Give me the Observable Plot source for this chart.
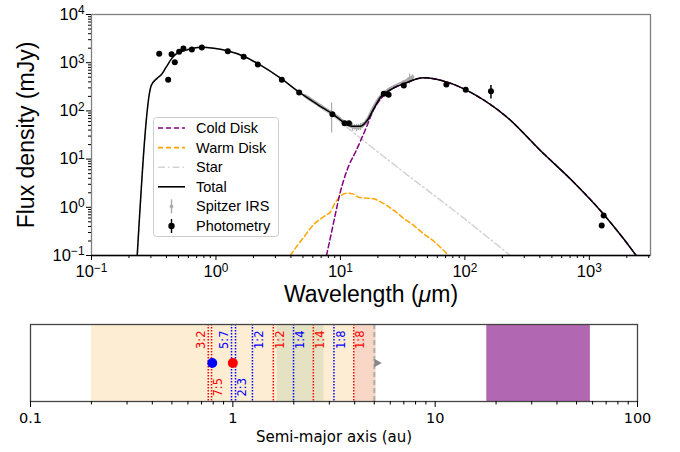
<!DOCTYPE html>
<html><head><meta charset="utf-8">
<script src="https://cdn.jsdelivr.net/npm/d3@7"></script>
<script src="https://cdn.jsdelivr.net/npm/@observablehq/plot@0.6"></script>
<style>
body{margin:0;background:#fff}
#chart{position:relative;width:680px;height:452px;overflow:hidden}
#top,#bottom{position:absolute;left:0}
#top{top:0}
#bottom{top:310px}
#legend{position:absolute;left:153px;top:117px}
</style></head>
<body><div id="chart"><div id="top"></div><div id="bottom"></div><svg id="legend" width="127" height="121"></svg></div>
<script>
// ---------------- data ----------------
const photWave = [0.35, 0.413, 0.44, 0.467, 0.506, 0.548, 0.64, 0.77, 1.245, 1.67, 2.17, 3.38, 4.66, 8.62, 10.8, 11.7, 22.3, 24.4, 32.3, 71, 101.6, 162, 1303, 1257];
const photFlux = [1528, 442, 1500, 1023, 1682, 1972, 1880, 2065, 1733, 1325, 918, 442, 241, 85.5, 55.6, 55.6, 226, 216, 337, 353, 274, 256, 0.676, 0.419];
const photErr  = [40, 15, 40, 30, 45, 50, 50, 55, 45, 35, 25, 12, 7, 3, 2, 2, 6, 6, 9, 9, 8, 80, 0.05, 0.03];

const irsWave = [5.2, 5.6, 6.0, 6.5, 7.0, 7.5, 8.0, 8.5, 9.0, 9.5, 10.0, 10.5, 11.0, 11.5, 12.0, 12.5, 13.0, 13.5, 14.0, 14.5, 15.0, 16.0, 17.0, 18.0, 19.0, 20.0, 21.0, 22.0, 23.0, 24.0, 25.0, 26.0, 27.0, 28.0, 30.0, 32.0, 34.0, 35.0, 36.0, 37.0, 38.0];
const irsFlux = [205, 180, 160, 140, 124, 110, 99, 90, 80, 73, 66, 60, 56, 52, 50, 47, 46, 45, 46, 47, 50, 58, 74, 102, 132, 165, 195, 222, 245, 265, 285, 300, 318, 332, 360, 390, 420, 440, 470, 480, 500];
const irsErr  = [12, 12, 10, 10, 9, 8, 8, 55, 6, 6, 6, 5, 5, 6, 6, 9, 6, 8, 7, 8, 6, 6, 7, 9, 10, 12, 14, 15, 16, 18, 18, 20, 20, 22, 25, 28, 30, 40, 110, 45, 60];

const totalWave = [0.233, 0.302, 0.337, 0.365, 0.398, 0.445, 0.488, 0.587, 0.75, 0.96, 1.23, 1.67, 2.28, 3.3, 4.78, 6.5, 8.83, 10.6, 12.4, 14.5, 16.4, 18.5, 21, 25.2, 32.3, 46.7, 72, 117, 218, 404, 748, 1225, 1884, 2388, 2600];
const totalFlux = [0.1, 336, 477, 569, 807, 1258, 1575, 1845, 2100, 2000, 1766, 1365, 887, 477, 233, 137, 83, 58, 48.2, 48.2, 63, 110, 192, 274, 365, 486, 395, 226, 74, 15.1, 3.32, 0.86, 0.222, 0.0986, 0.074];

const starWave = [0.233, 0.302, 0.337, 0.365, 0.398, 0.445, 0.488, 0.587, 0.75, 0.96, 1.23, 1.67, 2.28, 3.3, 4.78, 6.5, 8.83, 10.6, 12.4, 14.9, 30, 92, 232];
const starFlux = [0.1, 336, 477, 569, 807, 1258, 1575, 1845, 2100, 2000, 1766, 1365, 887, 477, 233, 136, 76, 53, 37.5, 25.7, 6.2, 0.676, 0.1];

const coldWave = [7.73, 8.32, 9.12, 9.89, 10.6, 11.7, 13.2, 14.9, 16.4, 17.9, 21, 25.2, 32.3, 46.7, 72, 117, 218, 404, 748, 1225, 1884, 2388, 2600];
const coldFlux = [0.1, 0.24, 0.73, 1.9, 3.6, 7.4, 13.9, 28, 50, 90, 175, 274, 365, 486, 395, 226, 74, 15.1, 3.32, 0.86, 0.222, 0.0986, 0.074];

const warmWave = [3.96, 4.5, 5.08, 6.1, 6.9, 7.6, 8.3, 9.0, 10.0, 11.3, 12.5, 14.0, 16.0, 18.5, 21, 26.9, 32, 38.8, 46, 56, 65, 74];
const warmFlux = [0.1, 0.16, 0.24, 0.44, 0.57, 0.68, 0.8, 1.2, 1.7, 1.96, 1.9, 1.62, 1.55, 1.5, 1.3, 0.86, 0.6, 0.42, 0.29, 0.2, 0.14, 0.1];

const xTicks = [0.1, 1, 10, 100, 1000];
const xTickLabels = ["10^-1", "10^0", "10^1", "10^2", "10^3"];
const yTicks = [0.1, 1, 10, 100, 1000, 10000];
const yTickLabels = ["10^-1", "10^0", "10^1", "10^2", "10^3", "10^4"];
const legendLabels = ["Cold Disk", "Warm Disk", "Star", "Total", "Spitzer IRS", "Photometry"];

// bottom panel
const bandNames = ["habitable", "overlap", "inner", "coldBelt"];
const bandStart = [0.2, 1.66, 4.0, 18.0];
const bandEnd   = [5.1, 2.82, 5.1, 58.5];
const redRes = [0.756, 0.785, 1.585, 2.50, 3.96];
const redResLabels = ["3:2", "7:5", "1:2", "1:4", "1:8"];
const blueRes = [0.985, 1.031, 1.25, 1.995, 3.16];
const blueResLabels = ["5:7", "2:3", "1:2", "1:4", "1:8"];
const planetBlue = [0.791];
const planetRed = [1.0];
const snowLine = [5.0];
const auTicks = [0.1, 1, 10, 100];
const auTickLabels = ["0.1", "1", "10", "100"];

// ---------------- styling ----------------
const bandFill = {habitable: "#fdeed3", overlap: "#e4e2c2", inner: "#f8d7c6", coldBelt: "#b267b2"};
const labelSide = ["tl", "br", "tr", "tr", "tr"];

function minorTicks(lo, hi) {
  const out = [];
  for (let p = lo; p < hi; p++) for (let k = 2; k <= 9; k++) out.push(k * Math.pow(10, p));
  return out;
}
const ns = "http://www.w3.org/2000/svg";
function supify(svg) {
  svg.querySelectorAll("text").forEach(t => {
    const s = t.textContent;
    if (/^10\^/.test(s)) {
      const e = s.slice(3).replace("-", "\u2212");
      t.textContent = "";
      const a = document.createElementNS(ns, "tspan"); a.textContent = "10";
      const b = document.createElementNS(ns, "tspan");
      b.setAttribute("dy", "-0.45em"); b.setAttribute("font-size", "0.72em"); b.textContent = e;
      t.append(a, b);
    } else if (s.includes("\u03bc")) {
      const [pre, post] = s.split("\u03bc");
      t.textContent = "";
      const a = document.createElementNS(ns, "tspan"); a.textContent = pre;
      const b = document.createElementNS(ns, "tspan"); b.setAttribute("font-style", "italic"); b.textContent = "\u03bc";
      const c = document.createElementNS(ns, "tspan"); c.textContent = post;
      t.append(a, b, c);
    }
  });
}

const phot = photWave.map((w, i) => ({w, f: photFlux[i], e: photErr[i]}));
const irs = irsWave.map((w, i) => ({w, f: irsFlux[i], e: irsErr[i]}));
const total = totalWave.map((w, i) => ({w, f: totalFlux[i]}));
const star = starWave.map((w, i) => ({w, f: starFlux[i]}));
const cold = coldWave.map((w, i) => ({w, f: coldFlux[i]}));
const warm = warmWave.map((w, i) => ({w, f: warmFlux[i]}));

const topPlot = Plot.plot({
  width: 680, height: 310,
  marginLeft: 91, marginRight: 30, marginTop: 14, marginBottom: 55,
  style: {fontFamily: '"Liberation Sans", Arial, sans-serif', fontSize: "16.5px", background: "transparent", overflow: "visible", color: "#000"},
  x: {type: "log", domain: [0.1, 3100]},
  y: {type: "log", domain: [0.1, 10000]},
  marks: [
    Plot.ruleX(irs, {x: "w", y1: d => d.f - d.e, y2: d => d.f + d.e, stroke: "#a9a9a9", strokeWidth: 1.2, clip: true}),
    Plot.line(irs, {x: "w", y: "f", stroke: "#a9a9a9", strokeWidth: 3.6}),
    Plot.line(star, {x: "w", y: "f", stroke: "#d3d3d3", strokeWidth: 1.5, strokeDasharray: "7,3,1.5,3", curve: "monotone-x", clip: true}),
    Plot.line(warm, {x: "w", y: "f", stroke: "orange", strokeWidth: 1.5, strokeDasharray: "5,3", curve: "monotone-x", clip: true}),
    Plot.line(cold, {x: "w", y: "f", stroke: "purple", strokeWidth: 1.5, strokeDasharray: "5,3", curve: "monotone-x", clip: true}),
    Plot.line(total, {x: "w", y: "f", stroke: "black", strokeWidth: 1.5, curve: "monotone-x", clip: true}),
    Plot.ruleX(phot, {x: "w", y1: d => d.f - d.e, y2: d => d.f + d.e, stroke: "black", strokeWidth: 1.5}),
    Plot.dot(phot, {x: "w", y: "f", r: 3, fill: "black"}),
    Plot.frame({stroke: "#808080", strokeWidth: 1.3}),
    Plot.ruleY([0.1], {stroke: "black", strokeWidth: 1.3}),
    Plot.axisX({ticks: minorTicks(-1, 4).filter(v => v < 3100), tickSize: 3, tickFormat: () => "", label: null}),
    Plot.axisX({ticks: xTicks, tickSize: 5, tickPadding: 5, tickFormat: d => xTickLabels[xTicks.indexOf(d)], label: null}),
    Plot.axisY({ticks: minorTicks(-1, 4), tickSize: 3, tickFormat: () => "", label: null}),
    Plot.axisY({ticks: yTicks, tickSize: 5, tickPadding: 2, tickFormat: d => yTickLabels[yTicks.indexOf(d)], label: null}),
    Plot.text(["Wavelength (\u03bcm)"], {text: d => d, frameAnchor: "bottom", dy: 39, fontSize: 23, textAnchor: "middle", lineAnchor: "middle"}),
    Plot.text(["Flux density (mJy)"], {text: d => d, frameAnchor: "left", dx: -65, rotate: -90, fontSize: 23, textAnchor: "middle", lineAnchor: "middle"})
  ]
});
supify(topPlot);
document.getElementById("top").append(topPlot);

// legend
const lg = d3.select("#legend");
lg.append("rect").attr("x", 0.5).attr("y", 0.5).attr("width", 125).attr("height", 119).attr("rx", 3)
  .attr("fill", "white").attr("fill-opacity", 0.85).attr("stroke", "#cccccc");
const rowY = i => 11 + i * 19.6;
const sw = [
  {stroke: "purple", dash: "5,3"},
  {stroke: "orange", dash: "5,3"},
  {stroke: "#d3d3d3", dash: "7,3,1.5,3"},
  {stroke: "black", dash: null}
];
sw.forEach((s, i) => {
  lg.append("line").attr("x1", 5).attr("x2", 32).attr("y1", rowY(i)).attr("y2", rowY(i))
    .attr("stroke", s.stroke).attr("stroke-width", 1.6).attr("stroke-dasharray", s.dash);
});
[["#a9a9a9", 1.8], ["black", 3.2]].forEach(([c, r], k) => {
  const y = rowY(4 + k);
  lg.append("line").attr("x1", 18.5).attr("x2", 18.5).attr("y1", y - 7).attr("y2", y + 7).attr("stroke", c).attr("stroke-width", 1.4);
  lg.append("circle").attr("cx", 18.5).attr("cy", y).attr("r", r).attr("fill", c);
});
legendLabels.forEach((t, i) => {
  lg.append("text").attr("x", 43).attr("y", rowY(i)).attr("dy", "0.35em")
    .attr("font-family", '"Liberation Sans", Arial, sans-serif').attr("font-size", 14.5).attr("fill", "#000").text(t);
});

// ---------------- bottom panel ----------------
const bands = bandNames.map((n, i) => ({n, a: bandStart[i], b: bandEnd[i]}));
const resLabels = [
  ...redRes.map((x, i) => ({x, t: redResLabels[i], c: "red", s: labelSide[i]})),
  ...blueRes.map((x, i) => ({x, t: blueResLabels[i], c: "blue", s: labelSide[i]}))
];
const bottomPlot = Plot.plot({
  width: 680, height: 142,
  marginLeft: 30, marginRight: 43, marginTop: 14, marginBottom: 51,
  style: {fontFamily: '"DejaVu Sans", sans-serif', fontSize: "14.5px", background: "transparent", overflow: "visible", color: "#000"},
  x: {type: "log", domain: [0.1, 100]},
  marks: [
    Plot.rect(bands, {x1: "a", x2: "b", fill: d => bandFill[d.n]}),
    Plot.ruleX(redRes, {stroke: "red", strokeWidth: 1.5, strokeDasharray: "1.5,1.5"}),
    Plot.ruleX(blueRes, {stroke: "blue", strokeWidth: 1.5, strokeDasharray: "1.5,1.5"}),
    Plot.ruleX(snowLine, {stroke: "#b0b0b0", strokeWidth: 2, strokeDasharray: "5,3"}),
    Plot.dot(snowLine, {x: d => d, frameAnchor: "middle", symbol: "triangle", rotate: 90, r: 3.2, fill: "#888888", dx: 2.5}),
    Plot.text(resLabels.filter(d => d.s === "tl"), {x: "x", text: "t", fill: "c", frameAnchor: "top", dy: 6, dx: -7, rotate: -90, textAnchor: "end", lineAnchor: "middle", fontSize: 11.5}),
    Plot.text(resLabels.filter(d => d.s === "tr"), {x: "x", text: "t", fill: "c", frameAnchor: "top", dy: 6, dx: 7, rotate: -90, textAnchor: "end", lineAnchor: "middle", fontSize: 11.5}),
    Plot.text(resLabels.filter(d => d.s === "br"), {x: "x", text: "t", fill: "c", frameAnchor: "bottom", dy: -5, dx: 7, rotate: -90, textAnchor: "start", lineAnchor: "middle", fontSize: 11.5}),
    Plot.dot(planetBlue, {x: d => d, frameAnchor: "middle", r: 5, fill: "blue"}),
    Plot.dot(planetRed, {x: d => d, frameAnchor: "middle", r: 5, fill: "red"}),
    Plot.frame({stroke: "#444444", strokeWidth: 1.3}),
    Plot.axisX({ticks: minorTicks(-1, 2), tickSize: 3.5, tickFormat: () => "", label: null}),
    Plot.axisX({ticks: auTicks, tickSize: 6, tickPadding: 5, tickFormat: d => auTickLabels[auTicks.indexOf(d)], label: null}),
    Plot.text(["Semi-major axis (au)"], {text: d => d, frameAnchor: "bottom", dy: 36, fontSize: 15, textAnchor: "middle", lineAnchor: "middle"})
  ]
});
document.getElementById("bottom").append(bottomPlot);
</script>
</body></html>
